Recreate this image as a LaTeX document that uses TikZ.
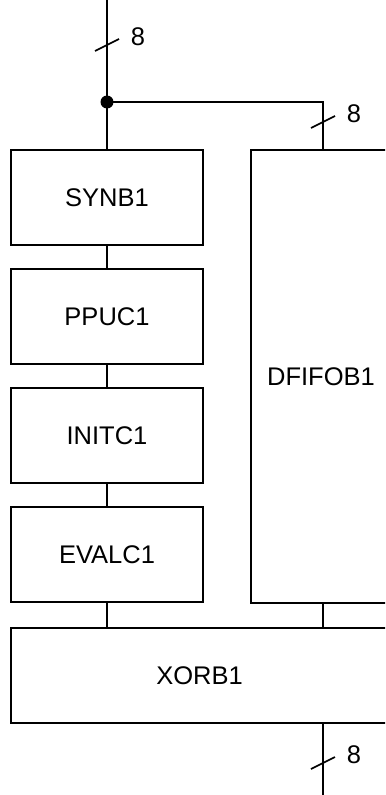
\documentclass[tikz,border=0pt]{standalone}
\usepackage{fontspec}
\setsansfont{Liberation Sans}
\usetikzlibrary{positioning, calc}
\tikzset{
  font={\fontsize{25.5bp}{30bp}\selectfont\sffamily},
  blk/.style={
    draw=black, fill=white, line width=2pt, align=center,
    minimum width=192bp, minimum height=95bp, inner sep=0pt
  },
  wire/.style={line width=2.8pt, draw=black},
  slash/.style={line width=1.7pt, draw=black},
  buslab/.style={inner sep=0pt}
}
% bus width tick: slash through the wire plus its bit count
\newcommand{\buswidth}[2]{%
  \draw[slash] ($(#1)+(-12,6)$) -- ($(#1)+(12,-6)$);
  \node[buslab] at ($(#1)+(31,-8)$) {#2};
}

\begin{document}
\begin{tikzpicture}[x=1bp, y=-1bp, node distance=22bp]
  \path[use as bounding box, clip] (0,0) rectangle (385,795);

  % left column of blocks
  \node[blk] (syn) at (107,197.5) {SYNB1};
  \node[blk, below=of syn] (ppuc) {PPUC1};
  \node[blk, below=of ppuc] (initc) {INITC1};
  \node[blk, below=of initc] (evalc) {EVALC1};

  % fifo on the right, xor across the bottom
  \node[blk, anchor=north west, minimum width=140bp, minimum height=453bp]
    (dfifo) at ([xshift=46bp]syn.north east) {DFIFOB1};
  \node[blk, anchor=north west, minimum width=377bp]
    (xorb) at ([yshift=-24bp]evalc.south west) {XORB1};

  \coordinate (din) at (107,0);
  \coordinate (split) at (107,102);
  \coordinate (fin) at ([xshift=2bp]dfifo.north);
  \coordinate (fout) at ([xshift=2bp]dfifo.south);
  \coordinate (dout) at (323,795);

  \draw[wire] (din) -- (syn);
  \draw[wire] (split) -| (fin);
  \fill (split) circle (6.5);
  \draw[wire] (syn) -- (ppuc);
  \draw[wire] (ppuc) -- (initc);
  \draw[wire] (initc) -- (evalc);
  \draw[wire] (evalc) -- (evalc.south |- xorb.north);
  \draw[wire] (fout) -- (fout |- xorb.north);
  \draw[wire] (xorb.south -| dout) -- (dout);

  \coordinate (t1) at (107,45);
  \coordinate (t2) at (323,122);
  \coordinate (t3) at (323,763);
  \buswidth{t1}{8}
  \buswidth{t2}{8}
  \buswidth{t3}{8}
\end{tikzpicture}
\end{document}
